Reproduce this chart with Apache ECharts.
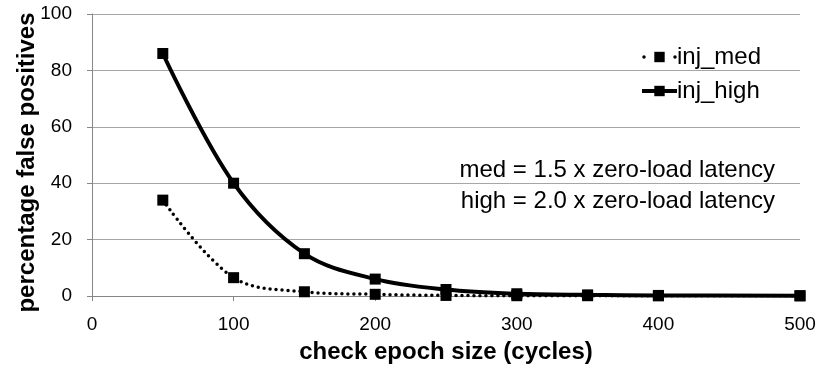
<!DOCTYPE html>
<html>
<head>
<meta charset="utf-8">
<script src="https://cdn.jsdelivr.net/npm/echarts@6/dist/echarts.min.js"></script>
<style>
html,body{margin:0;padding:0;background:#fff;}
#c{width:820px;height:369px;}
</style>
</head>
<body>
<div id="c"></div>
<script>
var epochSizes = [50, 100, 150, 200, 250, 300, 350, 400, 500];
var injMed  = [34, 6.5, 1.5, 0.6, 0.2, 0.1, 0.1, 0.05, 0.05];
var injHigh = [86, 40, 15, 6, 2.3, 0.8, 0.4, 0.2, 0.1];
var seriesNames = ['inj_med', 'inj_high'];
var xTitle = 'check epoch size (cycles)';
var yTitle = 'percentage false positives';
var notes = ['med = 1.5 x zero-load latency', 'high = 2.0 x zero-load latency'];

var FONT = '"Liberation Sans", Arial, sans-serif';
function pairs(xs, ys){ return xs.map(function(x,i){ return [x, ys[i]]; }); }

var chart = echarts.init(document.getElementById('c'), null, {renderer:'canvas'});
chart.setOption({
  animation: false,
  backgroundColor: '#fff',
  grid: {left: 92, right: 20, top: 14, bottom: 72, containLabel: false},
  xAxis: {
    type: 'value', min: 0, max: 500, interval: 100,
    name: xTitle, nameLocation: 'middle', nameGap: 44,
    nameTextStyle: {fontFamily: FONT, fontSize: 24, fontWeight: 'bold', color: '#000'},
    axisLine: {show: true, lineStyle: {color: '#868686', width: 1}},
    axisTick: {show: true, length: 5, lineStyle: {color: '#868686'}},
    axisLabel: {fontFamily: FONT, fontSize: 19, color: '#000', margin: 19},
    splitLine: {show: false}
  },
  yAxis: {
    type: 'value', min: 0, max: 100, interval: 20,
    axisLine: {show: true, lineStyle: {color: '#868686', width: 1}},
    axisTick: {show: true, length: 5, lineStyle: {color: '#868686'}},
    axisLabel: {fontFamily: FONT, fontSize: 19, color: '#000', margin: 20},
    splitLine: {show: true, lineStyle: {color: '#a6a6a6', width: 1}}
  },
  legend: {
    orient: 'vertical', left: 635, top: 40, itemGap: 10,
    itemWidth: 35, itemHeight: 13,
    textStyle: {fontFamily: FONT, fontSize: 24, color: '#000', padding: [0,0,0,-5]},
    data: [
      {name: seriesNames[0], lineStyle: {width: 3.5, type: [0, 15.5], dashOffset: -2, cap: 'round'}},
      {name: seriesNames[1], lineStyle: {width: 4}}
    ]
  },
  graphic: [
    {type: 'text', x: 27, y: 162.5, rotation: Math.PI / 2,
     style: {text: yTitle, fontFamily: FONT, fontSize: 24, fontWeight: 'bold', fill: '#000', align: 'center', verticalAlign: 'middle'}},
    {type: 'text', x: 775, y: 170,
     style: {text: notes[0], fontFamily: FONT, fontSize: 24, fill: '#000', align: 'right', verticalAlign: 'middle'}},
    {type: 'text', x: 775, y: 201,
     style: {text: notes[1], fontFamily: FONT, fontSize: 24, fill: '#000', align: 'right', verticalAlign: 'middle'}}
  ],
  series: [
    {
      name: seriesNames[0], type: 'line', data: pairs(epochSizes, injMed),
      smooth: 0.35, symbol: 'rect', symbolSize: 11,
      itemStyle: {color: '#000'},
      lineStyle: {color: '#000', width: 3.5, type: [0, 6], cap: 'round'}
    },
    {
      name: seriesNames[1], type: 'line', data: pairs(epochSizes, injHigh),
      smooth: 0.35, symbol: 'rect', symbolSize: 11,
      itemStyle: {color: '#000'},
      lineStyle: {color: '#000', width: 4}
    }
  ]
});
</script>
</body>
</html>
